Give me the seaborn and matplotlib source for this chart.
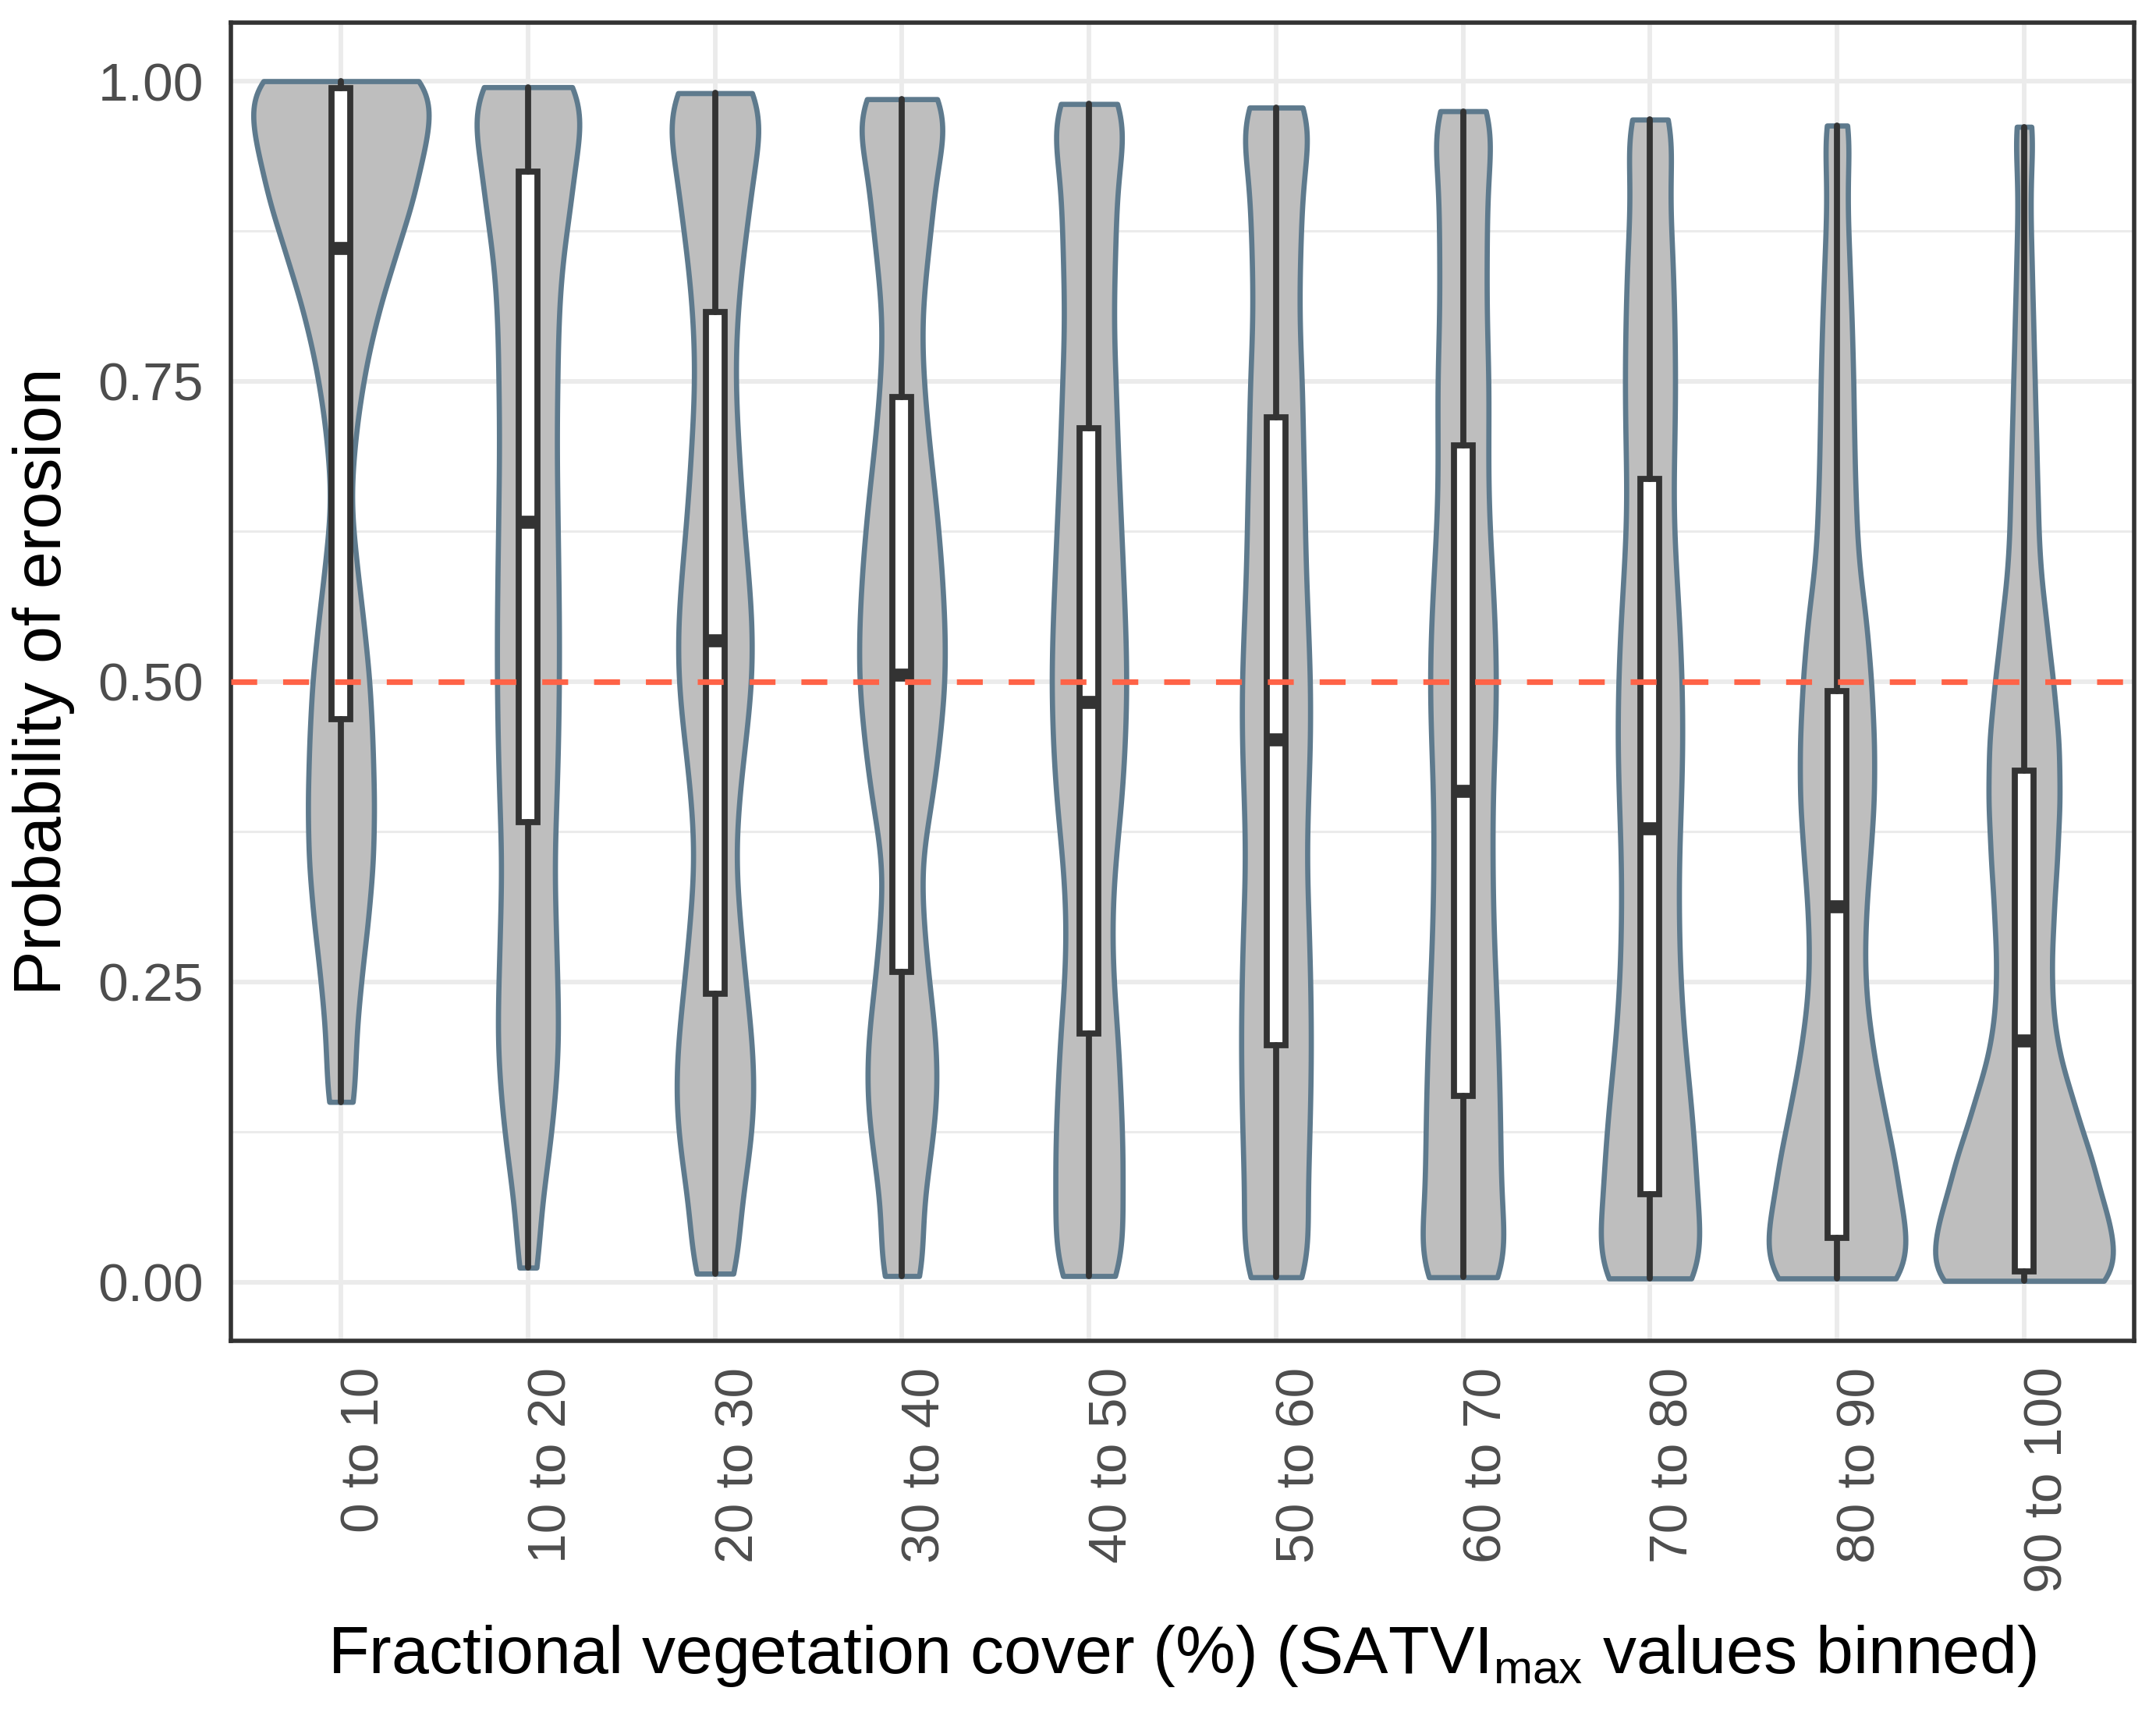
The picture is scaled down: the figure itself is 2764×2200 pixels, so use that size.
import numpy as np
import pandas as pd
import matplotlib
matplotlib.use("Agg")
import matplotlib.pyplot as plt
import matplotlib.transforms as mtransforms
from matplotlib.ticker import FixedLocator
import seaborn as sns

# bins of SATVImax cover
bins = ["0 to 10", "10 to 20", "20 to 30", "30 to 40", "40 to 50",
        "50 to 60", "60 to 70", "70 to 80", "80 to 90", "90 to 100"]

levels = [0.00, 0.05, 0.10, 0.15, 0.20, 0.25, 0.30, 0.35, 0.40, 0.45, 0.50,
          0.55, 0.60, 0.65, 0.70, 0.75, 0.80, 0.85, 0.90, 0.95, 1.00]

# relative number of cells at each level, per bin
dens_0_10 = [0, 0, 0, 16, 16, 22, 30, 36, 37, 35, 32, 25, 17, 10, 15, 24, 38, 58, 80, 94, 110]
dens_10_20 = [10, 12, 24, 32, 37, 35, 33, 31, 34, 36, 37, 37, 36, 35, 34, 35, 36, 40, 52, 57, 66]
dens_20_30 = [24, 24, 38, 45, 42, 34, 28, 22, 26, 34, 42, 42, 36, 30, 26, 22, 24, 30, 40, 44, 50]
dens_30_40 = [24, 20, 31, 40, 39, 30, 24, 20, 34, 42, 49, 48, 44, 38, 30, 24, 21, 28, 36, 38, 44]
dens_40_50 = [36, 37, 40, 37, 34, 28, 26, 30, 38, 42, 44, 42, 39, 36, 33, 31, 28, 30, 32, 32, 34]
dens_50_60 = [38, 37, 40, 42, 43, 42, 40, 37, 39, 42, 42, 39, 36, 35, 33, 32, 28, 29, 32, 31, 32]
dens_60_70 = [52, 45, 45, 44, 42, 39, 36, 35, 35, 38, 40, 38, 34, 30, 30, 31, 28, 28, 29, 26, 25]
dens_70_80 = [64, 58, 56, 50, 42, 37, 35, 35, 38, 40, 39, 36, 31, 28, 30, 31, 30, 28, 24, 19, 18]
dens_80_90 = [92, 84, 75, 58, 44, 35, 36, 42, 48, 48, 44, 38, 27, 24, 22, 21, 19, 16, 13, 10, 10]
dens_90_100 = [128, 110, 90, 64, 41, 35, 38, 43, 47, 46, 38, 29, 20, 18, 16, 14, 12, 10, 8, 7, 7]

# range of the data and box statistics
prob_min = [0.150, 0.012, 0.007, 0.005, 0.005, 0.004, 0.004, 0.003, 0.003, 0.001]
prob_max = [1.000, 0.995, 0.990, 0.985, 0.981, 0.978, 0.975, 0.968, 0.963, 0.962]
q1 = [0.469, 0.383, 0.240, 0.258, 0.207, 0.197, 0.155, 0.073, 0.037, 0.009]
median = [0.861, 0.633, 0.534, 0.506, 0.483, 0.452, 0.409, 0.378, 0.313, 0.201]
q3 = [0.994, 0.925, 0.808, 0.737, 0.711, 0.720, 0.697, 0.669, 0.492, 0.426]

all_dens = [dens_0_10, dens_10_20, dens_20_30, dens_30_40, dens_40_50,
            dens_50_60, dens_60_70, dens_70_80, dens_80_90, dens_90_100]

rows = []
for b, d, lo, hi in zip(bins, all_dens, prob_min, prob_max):
    vals = np.repeat(np.clip(levels, lo, hi), d)
    rows.append(pd.DataFrame({"bin": b, "prob": vals}))
df = pd.concat(rows, ignore_index=True)

sns.set_style("white")
plt.rcParams["font.family"] = ["Liberation Sans", "DejaVu Sans"]
plt.rcParams["mathtext.fontset"] = "custom"
plt.rcParams["mathtext.rm"] = "Liberation Sans"
plt.rcParams["mathtext.it"] = "Liberation Sans:italic"

fig, ax = plt.subplots(figsize=(13.82, 11), dpi=200)
fig.subplots_adjust(left=0.107, right=0.990, top=0.987, bottom=0.2186)

sns.violinplot(data=df, x="bin", y="prob", order=bins, color="#BEBEBE",
               saturation=1, inner=None, cut=0, bw_method=0.12,
               density_norm="area", width=0.95, gridsize=300,
               linewidth=2.4, linecolor="#5E7A8D", ax=ax)

stats = [dict(q1=a, med=m, q3=c, whislo=lo, whishi=hi, fliers=[])
         for a, m, c, lo, hi in zip(q1, median, q3, prob_min, prob_max)]
ax.bxp(stats, positions=range(len(bins)), widths=0.1, showcaps=False,
       patch_artist=True, manage_ticks=False,
       boxprops=dict(facecolor="white", edgecolor="#333333", linewidth=2.8),
       whiskerprops=dict(color="#333333", linewidth=2.8),
       medianprops=dict(color="#333333", linewidth=6.0, solid_capstyle="butt"),
       zorder=3)

ax.axhline(0.5, color="#FF6347", linewidth=2.6, linestyle=(0, (4.6, 4.6)), zorder=5)

ax.set_xlim(-0.59, 9.59)
ax.set_ylim(-0.049, 1.049)
ax.set_yticks([0, 0.25, 0.5, 0.75, 1.0])
ax.set_yticklabels(["0.00", "0.25", "0.50", "0.75", "1.00"])
ax.yaxis.set_minor_locator(FixedLocator([0.125, 0.375, 0.625, 0.875]))
ax.set_axisbelow(True)
ax.grid(which="major", color="#EBEBEB", linewidth=2.1)
ax.grid(which="minor", axis="y", color="#EBEBEB", linewidth=1.1)

for s in ax.spines.values():
    s.set_color("#333333")
    s.set_linewidth(2.0)

ax.tick_params(which="major", length=7.5, width=2.1, color="#333333",
               labelcolor="#4D4D4D", labelsize=25)
ax.tick_params(axis="x", pad=4.5)
ax.tick_params(axis="y", pad=5)
ax.tick_params(which="minor", length=0)

shift = mtransforms.ScaledTranslation(11 / 72, 0, fig.dpi_scale_trans)
for lab in ax.get_xticklabels():
    lab.set_rotation(90)
    lab.set_ha("center")
    lab.set_va("top")
    lab.set_transform(lab.get_transform() + shift)

ax.set_xlabel(r"Fractional vegetation cover (%) (SATVI$_{\mathrm{max}}$ values binned)",
              fontsize=31, color="black")
ax.set_ylabel("Probability of erosion", fontsize=31, color="black")
ax.xaxis.set_label_coords(0.5, -0.214)
ax.yaxis.set_label_coords(-0.082, 0.5)

fig.savefig("out.png", dpi=200)
